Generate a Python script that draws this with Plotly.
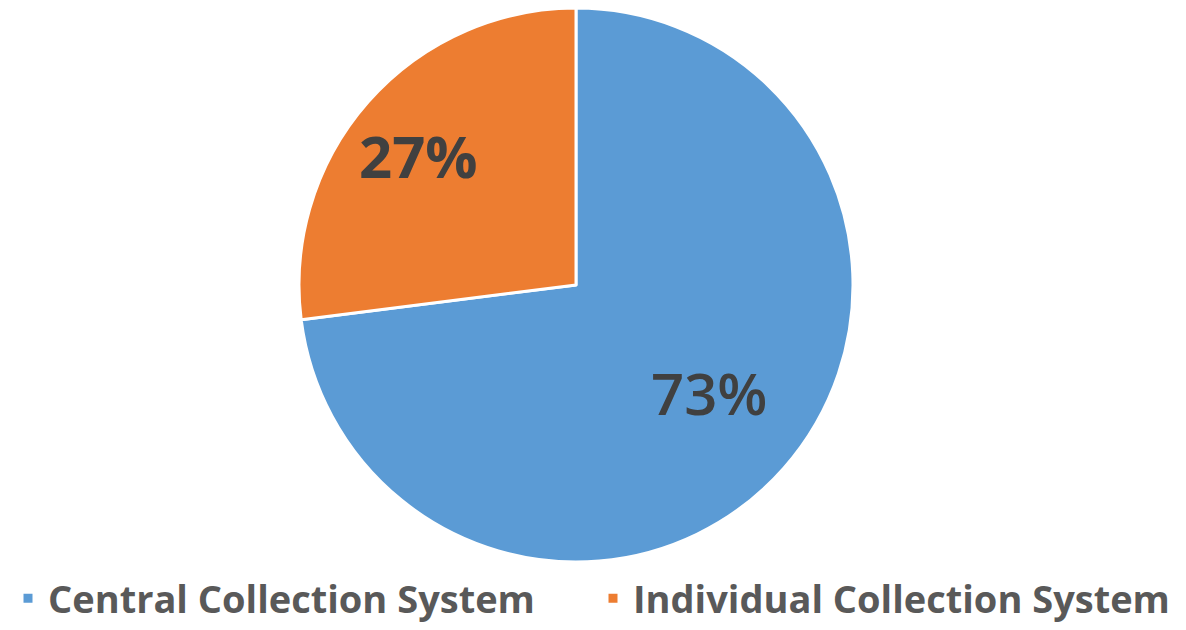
import math
import plotly.graph_objects as go

labels = ["Central Collection System", "Individual Collection System"]
values = [73, 27]
colors = ["#5B9BD5", "#ED7D31"]

# label styling (not data): radial fraction, pixel nudges, font weight
label_radius = [0.64, 0.72]
label_dx = [0, -8]
label_dy = [10, -2]
label_weight = [600, 700]

# The page body has an 8px margin, so the figure is drawn in window coords minus 8.
W, H = 1178, 622
cx, cy, r = 568, 277, 277

fig = go.Figure(go.Pie(
    labels=labels,
    values=values,
    sort=False,
    direction="clockwise",
    rotation=0,
    marker=dict(colors=colors, line=dict(color="white", width=3)),
    textinfo="none",
    domain=dict(x=[(cx - r) / W, (cx + r) / W], y=[1 - (cy + r) / H, 1 - (cy - r) / H]),
    hoverinfo="label+percent",
))

# percent labels placed at the mid-angle of each slice (clockwise from 12 o'clock)
total = sum(values)
start = 0.0
for v, k, dx, dy, wgt in zip(values, label_radius, label_dx, label_dy, label_weight):
    frac = v / total
    mid = (start + frac / 2) * 2 * math.pi
    start += frac
    px = cx + k * r * math.sin(mid)
    py = cy - k * r * math.cos(mid)
    fig.add_annotation(
        x=px / W, y=1 - py / H, xref="paper", yref="paper",
        xshift=dx, yshift=dy,
        text=f"{round(frac * 100)}%", showarrow=False,
        xanchor="center", yanchor="middle",
        font=dict(family="Open Sans", size=58, color="#404040", weight=wgt),
    )

fig.update_layout(
    width=W, height=H,
    margin=dict(l=0, r=0, t=0, b=0, autoexpand=False),
    paper_bgcolor="white",
    plot_bgcolor="white",
    showlegend=True,
    legend=dict(
        orientation="h",
        x=0.0, xanchor="left",
        y=0.0, yanchor="bottom",
        font=dict(family="Open Sans", size=38, color="#595959", weight="bold"),
        itemwidth=30,
        entrywidth=540,
        entrywidthmode="pixels",
        tracegroupgap=0,
    ),
)

fig.write_html("out.html")
